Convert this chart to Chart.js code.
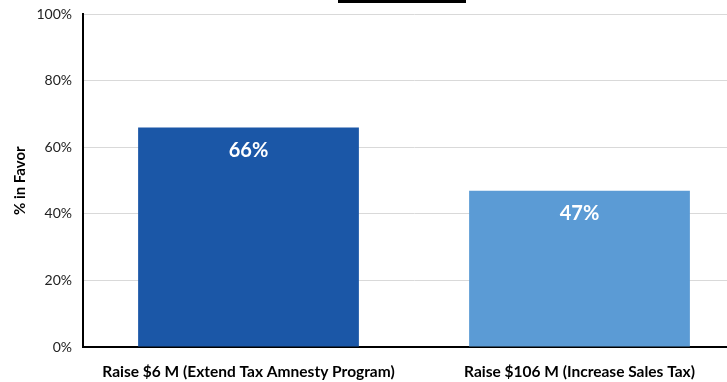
<!DOCTYPE html>
<html lang="en">

<head>
    <meta charset="utf-8">
    <style>
        html, body { margin: 0; padding: 0; overflow: hidden; background: #fff; }
        #wrap { position: relative; width: 745px; height: 382px; overflow: hidden; }
        #favorChart { position: absolute; left: 0; top: -5px; }
        #titleBox { position: absolute; left: 338px; top: 0; width: 128px; height: 3px; background: #000; }
    </style>
</head>

<body>
    <div id="wrap">
        <canvas id="favorChart" width="745" height="387"></canvas>
        <div id="titleBox"></div>
    </div>
    <script src="https://cdn.jsdelivr.net/npm/chart.js"></script>
    <script>
        const categories = ['Raise $6 M (Extend Tax Amnesty Program)', 'Raise $106 M (Increase Sales Tax)'];
        const favorValues = [66, 47];
        const barColors = ['#1B57A7', '#5B9BD5'];
        const yTicks = [0, 20, 40, 60, 80, 100];

        // white % labels just inside the top of each bar
        const barLabels = {
            id: 'barLabels',
            afterDatasetsDraw(chart) {
                const ctx = chart.ctx;
                const meta = chart.getDatasetMeta(0);
                ctx.save();
                ctx.fillStyle = '#fff';
                ctx.font = 'bold 20px Lato';
                ctx.textAlign = 'center';
                ctx.textBaseline = 'middle';
                meta.data.forEach((bar, i) => {
                    const p = bar.getProps(['x', 'y'], true);
                    ctx.fillText(favorValues[i] + '%', p.x, p.y + 23);
                });
                ctx.restore();
            }
        };

        new Chart(document.getElementById('favorChart'), {
            type: 'bar',
            data: {
                labels: categories,
                datasets: [{
                    data: favorValues,
                    backgroundColor: barColors,
                    borderWidth: 0,
                    barPercentage: 0.667,
                    categoryPercentage: 1
                }]
            },
            options: {
                responsive: false,
                animation: false,
                layout: { padding: { top: 3, left: 11, right: 0, bottom: 0 } },
                plugins: {
                    legend: { display: false },
                    tooltip: { enabled: false }
                },
                scales: {
                    x: {
                        grid: { display: false },
                        border: { color: '#000', width: 2 },
                        ticks: {
                            color: '#000',
                            font: { family: 'Lato', size: 15.5, weight: 'bold' },
                            padding: 8,
                            maxRotation: 0
                        },
                        afterFit: s => { s.height = 35; }
                    },
                    y: {
                        min: 0,
                        max: 100,
                        afterBuildTicks: s => { s.ticks = yTicks.map(v => ({ value: v })); },
                        grid: { color: '#d9d9d9', drawTicks: false },
                        border: { color: '#000', width: 2 },
                        ticks: {
                            color: '#222',
                            font: { family: 'Lato', size: 14 },
                            padding: 11,
                            callback: v => v + '%'
                        },
                        title: {
                            display: true,
                            text: '% in Favor',
                            color: '#000',
                            font: { family: 'Lato', size: 15, weight: 'bold' },
                            padding: { top: 0, bottom: 9 }
                        },
                        afterFit: s => { s.width = 72; }
                    }
                }
            },
            plugins: [barLabels]
        });
    </script>
</body>

</html>
